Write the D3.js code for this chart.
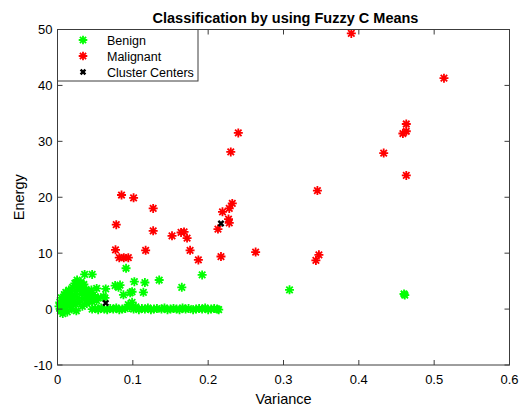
<!DOCTYPE html>
<html>
<head>
<meta charset="utf-8">
<script src="https://cdn.jsdelivr.net/npm/d3@7"></script>
<style>
  body { margin: 0; background: #fff; }
  text { font-family: "Liberation Sans", Arial, sans-serif; }
</style>
</head>
<body>
<div id="chart"></div>
<script>
// values: [variance, energy]
var benign = [
  [0.002,0.5],[0.003,1.2],[0.004,-0.3],[0.005,2.0],[0.006,0.8],[0.007,-0.8],[0.008,1.6],[0.009,2.6],
  [0.010,0.2],[0.011,3.0],[0.012,1.0],[0.013,-0.5],[0.014,2.2],[0.015,3.4],[0.016,0.6],[0.017,1.8],
  [0.018,2.8],[0.019,0.0],[0.020,3.9],[0.021,1.4],[0.022,2.4],[0.023,4.6],[0.024,0.9],[0.025,3.2],
  [0.025,-0.3],[0.026,5.2],[0.027,2.0],[0.028,4.1],[0.029,1.2],[0.030,3.6],[0.031,4.8],[0.032,2.7],
  [0.033,0.5],[0.034,3.9],[0.035,4.4],[0.036,1.8],[0.037,2.9],[0.038,3.5],[0.039,1.0],[0.040,2.4],
  [0.041,3.1],[0.042,1.6],[0.043,2.8],[0.044,2.0],[0.045,3.4],[0.046,1.3],[0.047,2.5],[0.048,1.9],
  [0.050,2.2],[0.052,1.5],[0.054,2.0],
  [0.036,6.2],[0.046,6.2],[0.091,7.3],[0.052,3.7],[0.064,3.6],[0.0765,4.2],[0.083,4.3],[0.081,3.9],
  [0.102,4.9],[0.116,4.75],[0.0965,2.9],[0.099,3.1],[0.0875,2.55],[0.061,2.25],[0.063,2.0],
  [0.135,5.2],[0.114,3.0],[0.165,3.9],[0.192,6.1],[0.308,3.45],[0.460,2.7],[0.461,2.5],
  [0.046,0],[0.050,0.1],[0.054,-0.1],[0.058,0.2],[0.062,0],[0.066,-0.1],[0.070,0.1],[0.074,0],
  [0.078,0.2],[0.082,-0.1],[0.086,0],[0.090,0.1],[0.094,0.8],[0.096,0.3],[0.099,1.2],[0.101,0],
  [0.104,0.4],[0.108,-0.1],[0.112,0.1],[0.116,0],[0.120,0.2],[0.124,-0.1],[0.128,0],[0.132,0.1],
  [0.138,0],[0.142,0.2],[0.146,-0.1],[0.150,0],[0.154,0.1],[0.158,0],[0.162,-0.1],[0.166,0.2],
  [0.170,0],[0.174,0.1],[0.180,-0.1],[0.184,0],[0.188,0.1],[0.192,0],[0.196,0.2],[0.200,-0.1],
  [0.204,0],[0.208,0.1],[0.212,0],[0.214,-0.1]
];

var malignant = [
  [0.390,49.3],[0.513,41.3],[0.463,33.1],[0.4585,31.4],[0.463,31.8],[0.240,31.5],[0.230,28.1],
  [0.433,27.9],[0.463,23.9],[0.345,21.2],[0.085,20.4],[0.101,19.9],[0.232,18.9],[0.228,18.0],
  [0.127,18.0],[0.219,17.4],[0.227,16.1],[0.228,15.4],[0.078,15.1],[0.213,14.3],[0.127,14.0],
  [0.168,13.8],[0.164,13.7],[0.152,13.1],[0.172,12.7],[0.077,10.6],[0.117,10.5],[0.176,10.5],
  [0.263,10.2],[0.347,9.7],[0.217,9.4],[0.082,9.2],[0.088,9.2],[0.094,9.2],[0.187,8.8],[0.343,8.7]
];

var centers = [[0.064,1.07],[0.217,15.3]];

var xTicks = [0, 0.1, 0.2, 0.3, 0.4, 0.5, 0.6];
var yTicks = [-10, 0, 10, 20, 30, 40, 50];

var width = 519, height = 409;
var mLeft = 57.5, mRight = 509.5, mTop = 29.5, mBottom = 365;

var svg = d3.select("#chart").append("svg")
  .attr("width", width)
  .attr("height", height);

var x = d3.scaleLinear().domain([0, 0.6]).range([mLeft, mRight]);
var y = d3.scaleLinear().domain([-10, 50]).range([mBottom, mTop]);

// MATLAB style '*' marker
function star(r) {
  var a = r * 0.72;
  return "M" + (-r) + ",0L" + r + ",0M0," + (-r) + "L0," + r +
    "M" + (-a) + "," + (-a) + "L" + a + "," + a + "M" + (-a) + "," + a + "L" + a + "," + (-a);
}
function cross(r) {
  return "M" + (-r) + "," + (-r) + "L" + r + "," + r + "M" + (-r) + "," + r + "L" + r + "," + (-r);
}

var plot = svg.append("g");

plot.selectAll(".ben").data(benign).enter().append("path")
  .attr("class", "ben")
  .attr("d", star(4.5))
  .attr("transform", function(d) { return "translate(" + x(d[0]) + "," + y(d[1]) + ")"; })
  .attr("stroke", "#00ff00").attr("stroke-width", 1.8).attr("fill", "none");

plot.selectAll(".mal").data(malignant).enter().append("path")
  .attr("class", "mal")
  .attr("d", star(4.5))
  .attr("transform", function(d) { return "translate(" + x(d[0]) + "," + y(d[1]) + ")"; })
  .attr("stroke", "#ff0000").attr("stroke-width", 1.8).attr("fill", "none");

plot.selectAll(".cen").data(centers).enter().append("path")
  .attr("class", "cen")
  .attr("d", cross(2.6))
  .attr("transform", function(d) { return "translate(" + x(d[0]) + "," + y(d[1]) + ")"; })
  .attr("stroke", "#000").attr("stroke-width", 2.4).attr("fill", "none");

// axes box with inward ticks (all four sides)
var axisColor = "#3c3c3c";
svg.append("rect")
  .attr("x", mLeft).attr("y", mTop)
  .attr("width", mRight - mLeft).attr("height", mBottom - mTop)
  .attr("fill", "none").attr("stroke", axisColor).attr("stroke-width", 1);

var tl = 5;
xTicks.forEach(function(t) {
  svg.append("line").attr("x1", x(t)).attr("x2", x(t)).attr("y1", mBottom).attr("y2", mBottom - tl).attr("stroke", axisColor);
  svg.append("line").attr("x1", x(t)).attr("x2", x(t)).attr("y1", mTop).attr("y2", mTop + tl).attr("stroke", axisColor);
});
yTicks.forEach(function(t) {
  svg.append("line").attr("x1", mLeft).attr("x2", mLeft + tl).attr("y1", y(t)).attr("y2", y(t)).attr("stroke", axisColor);
  svg.append("line").attr("x1", mRight).attr("x2", mRight - tl).attr("y1", y(t)).attr("y2", y(t)).attr("stroke", axisColor);
});

svg.selectAll(".xl").data(xTicks).enter().append("text")
  .attr("x", function(d) { return x(d); })
  .attr("y", 384)
  .attr("text-anchor", "middle")
  .attr("font-size", 13)
  .text(function(d) { return d === 0 ? "0" : String(d); });

svg.selectAll(".yl").data(yTicks).enter().append("text")
  .attr("x", mLeft - 5)
  .attr("y", function(d) { return y(d) + 4.5; })
  .attr("text-anchor", "end")
  .attr("font-size", 13)
  .text(function(d) { return d; });

svg.append("text")
  .attr("x", (mLeft + mRight) / 2).attr("y", 404)
  .attr("text-anchor", "middle").attr("font-size", 14.5)
  .text("Variance");

svg.append("text")
  .attr("transform", "translate(24," + ((mTop + mBottom) / 2) + ") rotate(-90)")
  .attr("text-anchor", "middle").attr("font-size", 14.5)
  .text("Energy");

svg.append("text")
  .attr("x", (mLeft + mRight) / 2 + 2).attr("y", 23)
  .attr("text-anchor", "middle").attr("font-size", 14.5).attr("font-weight", "bold")
  .text("Classification by using Fuzzy C Means");

// legend
var legendItems = [
  { label: "Benign", color: "#00ff00", shape: "star" },
  { label: "Malignant", color: "#ff0000", shape: "star" },
  { label: "Cluster Centers", color: "#000", shape: "cross" }
];
var lg = svg.append("g");
lg.append("rect")
  .attr("x", 57.5).attr("y", 29.5).attr("width", 140.5).attr("height", 51.5)
  .attr("fill", "#fff").attr("stroke", axisColor);
var ly = [40, 56, 72];
legendItems.forEach(function(it, i) {
  lg.append("path")
    .attr("d", it.shape === "star" ? star(4.3) : cross(2.4))
    .attr("transform", "translate(83," + ly[i] + ")")
    .attr("stroke", it.color)
    .attr("stroke-width", it.shape === "star" ? 1.8 : 2.4)
    .attr("fill", "none");
  lg.append("text")
    .attr("x", 107).attr("y", ly[i] + 4.5)
    .attr("font-size", 12.5)
    .text(it.label);
});
</script>
</body>
</html>
